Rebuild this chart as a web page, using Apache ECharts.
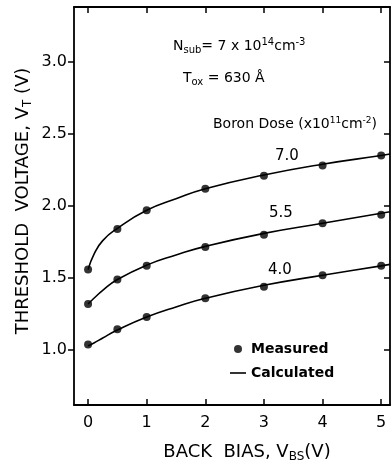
<!DOCTYPE html>
<html>
<head>
<meta charset="utf-8">
<script src="https://cdn.jsdelivr.net/npm/echarts@6/dist/echarts.min.js"></script>
<style>
html, body { margin: 0; padding: 0; background: #fff; }
#chart { width: 391px; height: 464px; }
</style>
</head>
<body>
<div id="chart"></div>
<script>
// back bias values (V) of the measured points
const vbs = [0, 0.5, 1, 2, 3, 4, 5];
// measured threshold voltage (V) per boron dose
const meas70 = [1.56, 1.84, 1.97, 2.12, 2.21, 2.28, 2.35];
const meas55 = [1.32, 1.49, 1.585, 1.715, 1.80, 1.88, 1.94];
const meas40 = [1.04, 1.146, 1.23, 1.36, 1.44, 1.52, 1.585];
// calculated curves
const vbsCalc = [0, 0.1, 0.25, 0.5, 1, 1.5, 2, 3, 4, 5, 5.15];
const calc70 = [1.56, 1.665, 1.76, 1.845, 1.97, 2.05, 2.12, 2.215, 2.29, 2.35, 2.36];
const calc55 = [1.32, 1.36, 1.415, 1.49, 1.59, 1.66, 1.72, 1.81, 1.88, 1.95, 1.96];
const calc40 = [1.03, 1.05, 1.085, 1.14, 1.23, 1.30, 1.36, 1.45, 1.52, 1.585, 1.595];
// tick labels
const xTicks = [0, 1, 2, 3, 4, 5];
const yTicks = [1.0, 1.5, 2.0, 2.5, 3.0];

const FONT = 'DejaVu Sans';

function pairs(xs, ys) {
    return xs.map(function (x, i) { return [x, ys[i]]; });
}

let myChart = echarts.init(document.getElementById('chart'));

//线条
function calcSeries(ys) {
    return {
        name: 'Calculated',
        type: 'line',
        smooth: 0.5,
        showSymbol: false,
        symbol: 'none',
        lineStyle: { color: '#000', width: 1.6 },
        itemStyle: { color: '#000' },
        data: pairs(vbsCalc, ys),
        z: 2
    };
}
//测量点
function measSeries(ys) {
    return {
        name: 'Measured',
        type: 'scatter',
        symbol: 'circle',
        symbolSize: 8,
        itemStyle: { color: '#000' },
        data: pairs(vbs, ys),
        z: 3
    };
}

const axisLineStyle = { color: '#000', width: 1.8 };
const tickLineStyle = { color: '#000', width: 1.5 };

let option = {
    backgroundColor: '#fff',
    animation: false,
    grid: { left: 74, top: 7, right: 1, bottom: 59 },
    xAxis: [
        {
            type: 'value',
            min: -0.24,
            max: 5.15,
            position: 'bottom',
            axisLine: { show: true, onZero: false, lineStyle: axisLineStyle },
            axisTick: { show: true, inside: true, length: 6, customValues: xTicks, lineStyle: tickLineStyle },
            axisLabel: { customValues: xTicks, color: '#000', fontFamily: FONT, fontSize: 16, margin: 10 },
            splitLine: { show: false }
        },
        {
            type: 'value',
            min: -0.24,
            max: 5.15,
            position: 'top',
            axisLine: { show: true, onZero: false, lineStyle: axisLineStyle },
            axisTick: { show: true, inside: true, length: 6, customValues: xTicks, lineStyle: tickLineStyle },
            axisLabel: { show: false },
            splitLine: { show: false }
        }
    ],
    yAxis: [
        {
            type: 'value',
            min: 0.62,
            max: 3.38,
            position: 'left',
            axisLine: { show: true, onZero: false, lineStyle: axisLineStyle },
            axisTick: { show: true, inside: false, length: 6, customValues: yTicks, lineStyle: tickLineStyle },
            axisLabel: {
                customValues: yTicks, color: '#000', fontFamily: FONT, fontSize: 16, margin: 7,
                formatter: function (v) { return v.toFixed(1); }
            },
            splitLine: { show: false }
        },
        {
            type: 'value',
            min: 0.62,
            max: 3.38,
            position: 'right',
            axisLine: { show: true, onZero: false, lineStyle: axisLineStyle },
            axisTick: { show: true, inside: true, length: 6, customValues: yTicks, lineStyle: tickLineStyle },
            axisLabel: { show: false },
            splitLine: { show: false }
        }
    ],
    legend: {
        orient: 'vertical',
        left: 225,
        top: 337,
        itemWidth: 16,
        itemHeight: 8,
        itemGap: 10,
        textStyle: { color: '#000', fontFamily: FONT, fontSize: 14, fontWeight: 'bold' },
        data: [
            { name: 'Measured', icon: 'circle' },
            { name: 'Calculated', icon: 'path://M0,0L20,0L20,2L0,2Z' }
        ],
        selectedMode: false
    },
    graphic: [
        {
            type: 'text', left: 173, top: 37,
            style: {
                text: 'N{sub|sub}= 7 x 10{sup|14}cm{sup|-3}',
                fill: '#000', fontFamily: FONT, fontSize: 14,
                rich: {
                    sub: { fontSize: 10, fontFamily: FONT, fill: '#000', padding: [8, 0, 0, 0] },
                    sup: { fontSize: 10, fontFamily: FONT, fill: '#000', padding: [0, 0, 8, 0] }
                }
            }
        },
        {
            type: 'text', left: 183, top: 71,
            style: {
                text: 'T{sub|ox} = 630 Å',
                fill: '#000', fontFamily: FONT, fontSize: 14,
                rich: {
                    sub: { fontSize: 10, fontFamily: FONT, fill: '#000', padding: [8, 0, 0, 0] }
                }
            }
        },
        {
            type: 'text', left: 213, top: 116,
            style: {
                text: 'Boron Dose (x10{sup|11}cm{sup|-2})',
                fill: '#000', fontFamily: FONT, fontSize: 14,
                rich: {
                    sup: { fontSize: 9, fontFamily: FONT, fill: '#000', padding: [0, 0, 8, 0] }
                }
            }
        },
        { type: 'text', left: 275, top: 149, style: { text: '7.0', fill: '#000', fontFamily: FONT, fontSize: 15 } },
        { type: 'text', left: 269, top: 206, style: { text: '5.5', fill: '#000', fontFamily: FONT, fontSize: 15 } },
        { type: 'text', left: 268, top: 263, style: { text: '4.0', fill: '#000', fontFamily: FONT, fontSize: 15 } },
        //y轴标题
        {
            type: 'text', x: 23, y: 201, rotation: Math.PI / 2,
            style: {
                text: 'THRESHOLD  VOLTAGE, V{sub|T} (V)',
                fill: '#000', fontFamily: FONT, fontSize: 18,
                align: 'center', verticalAlign: 'middle',
                rich: {
                    sub: { fontSize: 12, fontFamily: FONT, fill: '#000', padding: [10, 0, 0, 0] }
                }
            }
        },
        //x轴标题
        {
            type: 'text', x: 247, y: 452,
            style: {
                text: 'BACK  BIAS, V{sub|BS}(V)',
                fill: '#000', fontFamily: FONT, fontSize: 18,
                align: 'center', verticalAlign: 'middle',
                rich: {
                    sub: { fontSize: 12, fontFamily: FONT, fill: '#000', padding: [10, 0, 0, 0] }
                }
            }
        }
    ],
    series: [
        calcSeries(calc70), calcSeries(calc55), calcSeries(calc40),
        measSeries(meas70), measSeries(meas55), measSeries(meas40)
    ]
};

myChart.setOption(option, true);
</script>
</body>
</html>
